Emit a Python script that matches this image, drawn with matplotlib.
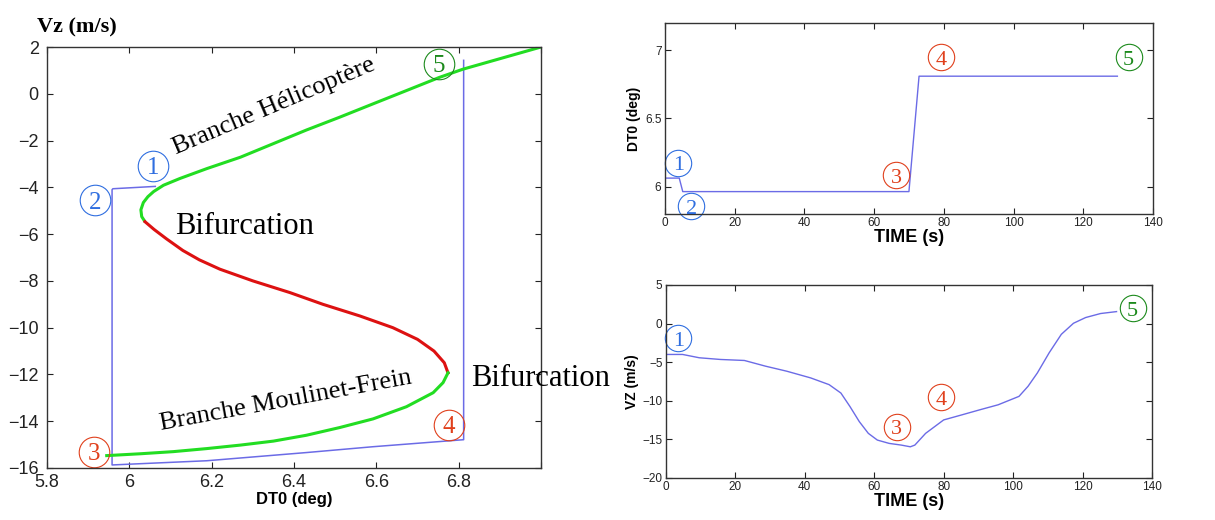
import numpy as np
import matplotlib
matplotlib.use("Agg")
import matplotlib.pyplot as plt

# ── data ─────────────────────────────────────────────────────
# S-curve branches (DT0 in deg, Vz in m/s)
helico_dt0 = [7.00, 6.81, 6.753, 6.672, 6.592, 6.511, 6.43, 6.35, 6.27, 6.188,
              6.123, 6.083, 6.059, 6.045, 6.034, 6.028, 6.030, 6.038]
helico_vz  = [2.0, 1.05, 0.70, 0.13, -0.43, -1.0, -1.55, -2.13, -2.71, -3.2,
              -3.62, -3.91, -4.18, -4.4, -4.65, -4.96, -5.25, -5.47]

unstable_dt0 = [6.038, 6.06, 6.09, 6.13, 6.17, 6.22, 6.30, 6.39, 6.47, 6.56,
                6.64, 6.70, 6.74, 6.765, 6.774]
unstable_vz  = [-5.47, -5.8, -6.2, -6.7, -7.1, -7.5, -8.0, -8.5, -9.0, -9.5,
                -10.0, -10.5, -11.0, -11.5, -11.93]

moulinet_dt0 = [6.774, 6.762, 6.738, 6.673, 6.592, 6.511, 6.43, 6.35, 6.27,
                6.188, 6.107, 6.028, 5.945]
moulinet_vz  = [-11.93, -12.35, -12.78, -13.38, -13.9, -14.27, -14.6, -14.85,
                -15.02, -15.17, -15.3, -15.39, -15.47]

# trajectoire simulée dans le plan (DT0, Vz)
traj_dt0 = [6.063, 5.96, 5.958, 5.958, 6.188, 6.43, 6.592, 6.812, 6.812]
traj_vz  = [-3.96, -4.06, -4.1, -15.87, -15.69, -15.34, -15.09, -14.79, 1.43]

# DT0 en fonction du temps
t_dt0   = [0, 4.1, 5.1, 70, 72.9, 129.8]
dt0_t   = [6.063, 6.063, 5.964, 5.964, 6.81, 6.81]

# Vz en fonction du temps
t_vz = [0, 4.8, 9.6, 15.7, 22.6, 28.7, 34.8, 41.7, 47.0, 50.4, 53.0, 55.7,
        58.3, 60.9, 64.3, 67.8, 70.4, 71.7, 74.8, 80.0, 85.2, 90.4, 95.7,
        101.7, 104.3, 107.0, 110.4, 113.9, 117.4, 120.9, 125.2, 129.8]
vz_t = [-4.0, -4.0, -4.43, -4.65, -4.78, -5.52, -6.17, -7.04, -7.91, -9.0,
        -10.74, -12.7, -14.22, -15.09, -15.52, -15.74, -15.96, -15.74, -14.22,
        -12.48, -11.83, -11.17, -10.52, -9.43, -8.13, -6.39, -3.78, -1.39,
        0.04, 0.78, 1.3, 1.55]

# ── style ────────────────────────────────────────────────────
BLUE_NUM  = "#2f6ee0"
RED_NUM   = "#e0401c"
GREEN_NUM = "#1c8a1c"
TRAJ      = "#6b6be6"
SERIF     = ["Liberation Serif", "DejaVu Serif"]
SANS      = ["Liberation Sans", "DejaVu Sans"]

plt.rcParams["font.family"] = SANS


def matlab_axes(ax, labelsize, pad):
    ax.tick_params(direction="in", top=True, right=True, length=4,
                   width=0.8, labelsize=labelsize, colors="#222222", pad=pad)
    for sp in ax.spines.values():
        sp.set_linewidth(1.0)
        sp.set_color("#333333")


def circled(ax, x, y, num, color, fs, ms):
    ax.plot(x, y, "o", mfc="none", mec=color, ms=ms, mew=0.8, clip_on=False)
    ax.annotate(str(num), (x, y), xytext=(0, -0.34 * fs), textcoords="offset points",
                ha="center", va="baseline", fontsize=fs, color=color,
                family=SERIF, annotation_clip=False)


fig = plt.figure(figsize=(12.15, 5.2), dpi=100)

# ── panneau gauche : bifurcation ─────────────────────────────
ax = fig.add_axes([0.0387, 0.1, 0.4066, 0.8096])
ax.plot(traj_dt0, traj_vz, color=TRAJ, lw=1.1)
ax.plot(helico_dt0, helico_vz, color="#22dd22", lw=2.2, solid_capstyle="butt")
ax.plot(unstable_dt0, unstable_vz, color="#dd1111", lw=2.2)
ax.plot(moulinet_dt0, moulinet_vz, color="#22dd22", lw=2.2)
ax.set_xlim(5.8, 7.0)
ax.set_ylim(-16, 2)
ax.set_xticks([5.8, 6.0, 6.2, 6.4, 6.6, 6.8, 7.0])
ax.set_xticklabels(["5.8", "6", "6.2", "6.4", "6.6", "6.8", ""])
ax.set_yticks(np.arange(-16, 3, 2))
matlab_axes(ax, 13, 6)
ax.tick_params(axis="x", pad=4)
ax.set_xlabel("DT0 (deg)", fontsize=12, fontweight="bold", labelpad=1)

ax.text(6.114, -2.58, "Branche Hélicoptère", family=SERIF, fontsize=19,
        rotation=23, rotation_mode="anchor", ha="left", va="baseline")
ax.text(6.076, -14.37, "Branche Moulinet-Frein", family=SERIF, fontsize=19,
        rotation=10.5, rotation_mode="anchor", ha="left", va="baseline")
ax.text(6.11, -6.0, "Bifurcation", family=SERIF, fontsize=22, va="baseline")
ax.text(6.83, -12.5, "Bifurcation", family=SERIF, fontsize=22, va="baseline")

for (x, y, n, c) in [(6.057, -3.08, 1, BLUE_NUM), (5.917, -4.55, 2, BLUE_NUM),
                     (5.914, -15.3, 3, RED_NUM), (6.776, -14.16, 4, RED_NUM),
                     (6.751, 1.29, 5, GREEN_NUM)]:
    circled(ax, x, y, n, c, 18, 22)

fig.text(77 / 1215, 1 - 27 / 520, "Vz (m/s)", family=SERIF, fontsize=16,
         fontweight="bold", ha="center", va="center")

# ── panneau haut droit : DT0(t) ──────────────────────────────
ax1 = fig.add_axes([0.5473, 0.5885, 0.4016, 0.3673])
ax1.plot(t_dt0, dt0_t, color=TRAJ, lw=1.0)
ax1.set_xlim(0, 140)
ax1.set_ylim(5.8, 7.2)
ax1.set_xticks(np.arange(0, 141, 20))
ax1.set_yticks([6, 6.5, 7])
ax1.set_yticklabels(["6", "6.5", "7"])
matlab_axes(ax1, 8.5, 2.5)
ax1.set_xlabel("TIME (s)", fontsize=13, fontweight="bold", labelpad=0)
ax1.set_ylabel("DT0 (deg)", fontsize=10, fontweight="bold")
ax1.yaxis.set_label_coords(-0.05, 0.5)
for (x, y, n, c) in [(3.8, 6.177, 1, BLUE_NUM), (7.6, 5.857, 2, BLUE_NUM),
                     (66.4, 6.085, 3, RED_NUM), (79.2, 6.95, 4, RED_NUM),
                     (133.0, 6.947, 5, GREEN_NUM)]:
    circled(ax1, x, y, n, c, 16, 19)

# ── panneau bas droit : Vz(t) ────────────────────────────────
ax2 = fig.add_axes([0.5481, 0.0808, 0.4, 0.3712])
ax2.plot(t_vz, vz_t, color=TRAJ, lw=1.0)
ax2.set_xlim(0, 140)
ax2.set_ylim(-20, 5)
ax2.set_xticks(np.arange(0, 141, 20))
ax2.set_yticks(np.arange(-20, 6, 5))
matlab_axes(ax2, 8.5, 2.5)
ax2.set_xlabel("TIME (s)", fontsize=13, fontweight="bold", labelpad=0)
ax2.set_ylabel("VZ (m/s)", fontsize=10, fontweight="bold")
ax2.yaxis.set_label_coords(-0.055, 0.5)
for (x, y, n, c) in [(3.6, -1.9, 1, BLUE_NUM), (66.5, -13.35, 3, RED_NUM),
                     (79.2, -9.52, 4, RED_NUM), (134.4, 2.0, 5, GREEN_NUM)]:
    circled(ax2, x, y, n, c, 16, 19)

fig.savefig("out.png", dpi=100)
